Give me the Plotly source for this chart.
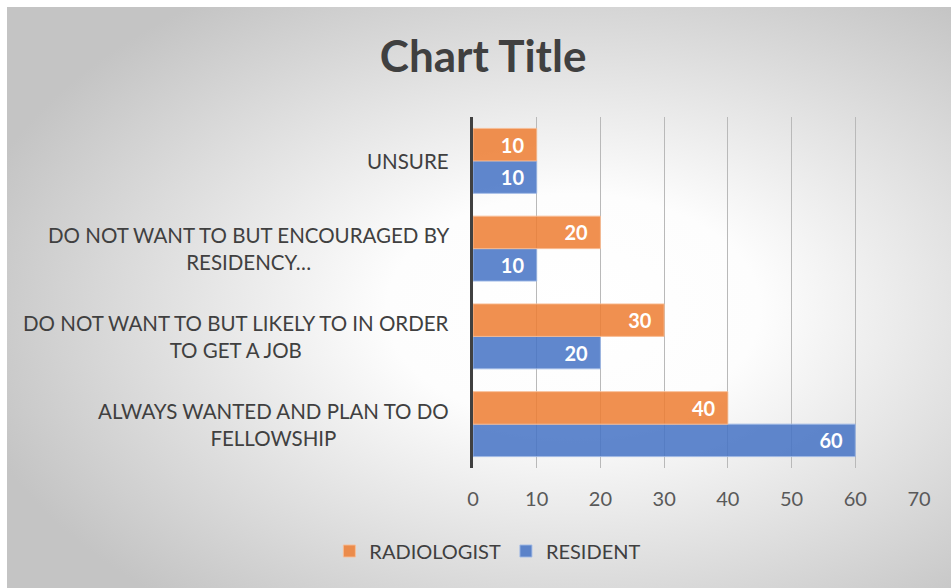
import urllib.parse
import plotly.graph_objects as go

# ---- data ----
categories = [
    "ALWAYS WANTED AND PLAN TO DO<br>FELLOWSHIP",
    "DO NOT WANT TO BUT LIKELY TO IN ORDER<br>TO GET A JOB",
    "DO NOT WANT TO BUT ENCOURAGED BY<br>RESIDENCY…",
    "UNSURE",
]
radiologist = [40, 30, 20, 10]
resident = [60, 20, 10, 10]
x_ticks = [0, 10, 20, 30, 40, 50, 60, 70]
title_text = "Chart Title"

# ---- layout constants ----
W, H = 951, 588
ML, MR, MT, MB = 473, 32, 117, 120
FONT = "Lato, 'Open Sans', sans-serif"

fig = go.Figure()
fig.add_trace(go.Bar(
    y=categories, x=resident, name="RESIDENT", orientation="h",
    marker=dict(color="rgba(68,114,196,0.85)", line=dict(color="rgba(160,185,230,0.9)", width=1)),
    texttemplate="%{x}\u00a0\u00a0", textposition="inside", insidetextanchor="end",
    textfont=dict(color="white", size=20, family=FONT, weight="bold"),
))
fig.add_trace(go.Bar(
    y=categories, x=radiologist, name="RADIOLOGIST", orientation="h",
    marker=dict(color="rgba(237,125,49,0.85)", line=dict(color="rgba(248,190,150,0.9)", width=1)),
    texttemplate="%{x}\u00a0\u00a0", textposition="inside", insidetextanchor="end",
    textfont=dict(color="white", size=20, family=FONT, weight="bold"),
))

# category labels, centred lines, right-aligned block
for c in categories:
    fig.add_annotation(
        x=0, xref="paper", y=c, yref="y", text=c, showarrow=False,
        xanchor="right", yanchor="middle", align="center", xshift=-22,
        font=dict(size=20.5, color="#404040", family=FONT),
    )

# radial gradient background
svg = (
    '<svg xmlns="http://www.w3.org/2000/svg" width="944" height="581" preserveAspectRatio="none">'
    '<defs><radialGradient id="g" cx="0.6" cy="0.52" r="0.66">'
    '<stop offset="0" stop-color="#ffffff"/><stop offset="0.3" stop-color="#fdfdfd"/>'
    '<stop offset="1" stop-color="#c4c4c4"/></radialGradient></defs>'
    '<rect width="944" height="581" fill="url(#g)"/></svg>'
)
src = "data:image/svg+xml;charset=utf-8," + urllib.parse.quote(svg)
pw, ph = W - ML - MR, H - MT - MB
x0px, y0px = 7, 7
fig.add_layout_image(
    source=src, xref="paper", yref="paper",
    x=(x0px - ML) / pw, y=(H - MB - y0px) / ph,
    sizex=(W - x0px) / pw, sizey=(H - y0px) / ph,
    xanchor="left", yanchor="top", sizing="stretch", layer="below",
)

fig.update_layout(
    width=W, height=H,
    margin=dict(l=ML, r=MR, t=MT, b=MB, pad=0),
    paper_bgcolor="white", plot_bgcolor="rgba(0,0,0,0)",
    barmode="group", bargap=0.26, bargroupgap=0,
    title=dict(text=f"<b>{title_text}</b>", x=0.508, xref="container", xanchor="center",
               y=1 - 57 / H, yref="container", yanchor="middle",
               font=dict(size=44, color="#404040", family=FONT)),
    xaxis=dict(range=[0, 70], tickvals=x_ticks, showgrid=True, gridcolor="#b9b9b9", gridwidth=1,
               zeroline=False, showline=False, ticks="", ticklabelstandoff=17,
               tickfont=dict(size=20, color="#595959", family=FONT)),
    yaxis=dict(showticklabels=False, showline=True, linecolor="#404040", linewidth=3,
               showgrid=False, zeroline=False, ticks=""),
    legend=dict(orientation="h", x=0.513, xref="container", xanchor="center",
                y=1 - 551 / H, yref="container", yanchor="middle",
                traceorder="reversed", font=dict(size=20, color="#404040", family=FONT),
                bgcolor="rgba(0,0,0,0)"),
    showlegend=True,
)

fig.write_html("out.html", config={"displayModeBar": False},
               post_script="document.body.style.margin='0';document.body.style.overflow='hidden';")
